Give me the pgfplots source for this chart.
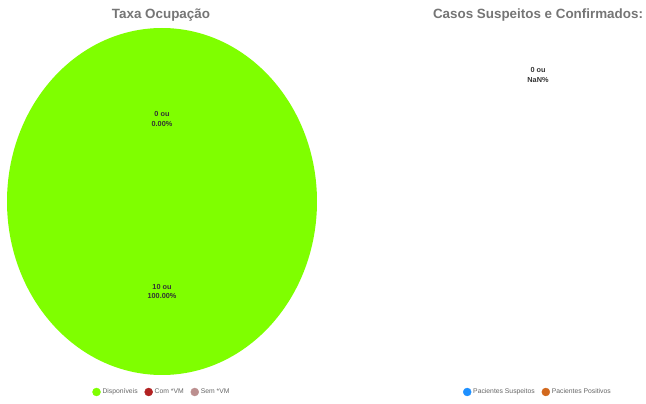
\documentclass[border=0pt]{standalone}
\usepackage{pgfplots}
\pgfplotsset{compat=1.18}
\usepackage{fontspec}
\setmainfont{Liberation Sans}
\definecolor{disp}{HTML}{7FFF00}
\definecolor{comvm}{HTML}{B22222}
\definecolor{semvm}{HTML}{BC8F8F}
\definecolor{susp}{HTML}{1E90FF}
\definecolor{posi}{HTML}{D2691E}
\definecolor{titlegray}{HTML}{757575}
\definecolor{leggray}{HTML}{666666}
\definecolor{lblcol}{HTML}{333333}

\pgfplotsset{
  pieaxis/.style={
    anchor=south west, scale only axis, height=347pt,
    xmin=-1, xmax=1, ymin=-1, ymax=1, hide axis, clip=false,
    legend style={at={(0.5,-0.049)}, anchor=center, draw=none, fill=none,
      legend columns=-1, font=\fontsize{6.8}{8}\selectfont, text=leggray,
      /tikz/every even column/.append style={column sep=5pt}},
    legend image post style={mark size=4pt},
  },
}
\tikzset{lbl/.style={align=center, font=\bfseries\fontsize{7.3}{9.5}\selectfont, text=lblcol}}

\begin{document}
\begin{tikzpicture}[x=1pt,y=1pt]
\path[use as bounding box] (0,0) rectangle (646,404);

% Taxa Ocupacao: Disponiveis 10, Com VM 0, Sem VM 0
\begin{axis}[pieaxis, at={(7pt,29pt)}, width=310pt]
\addlegendimage{only marks, mark=*, mark options={draw=disp, fill=disp}}
\addlegendentry{Disponíveis}
\addlegendimage{only marks, mark=*, mark options={draw=comvm, fill=comvm}}
\addlegendentry{Com *VM}
\addlegendimage{only marks, mark=*, mark options={draw=semvm, fill=semvm}}
\addlegendentry{Sem *VM}
\fill[disp] (axis cs:0,0) ellipse [x radius=1, y radius=1];
\node[lbl] at (axis cs:0,0.475) {0 ou\\0.00\%};
\node[lbl] at (axis cs:0,-0.52) {10 ou\\100.00\%};
\end{axis}

% Casos Suspeitos e Confirmados: all zero
\begin{axis}[pieaxis, at={(438pt,29pt)}, width=200pt]
\addlegendimage{only marks, mark=*, mark options={draw=susp, fill=susp}}
\addlegendentry{Pacientes Suspeitos}
\addlegendimage{only marks, mark=*, mark options={draw=posi, fill=posi}}
\addlegendentry{Pacientes Positivos}
\node[lbl] at (axis cs:0,0.729) {0 ou\\NaN\%};
\end{axis}

\node[font=\bfseries\fontsize{13.4}{15}\selectfont, text=titlegray] at (161,389) {Taxa Ocupação};
\node[font=\bfseries\fontsize{13.4}{15}\selectfont, text=titlegray] at (538,389) {Casos Suspeitos e Confirmados:};
\end{tikzpicture}
\end{document}
